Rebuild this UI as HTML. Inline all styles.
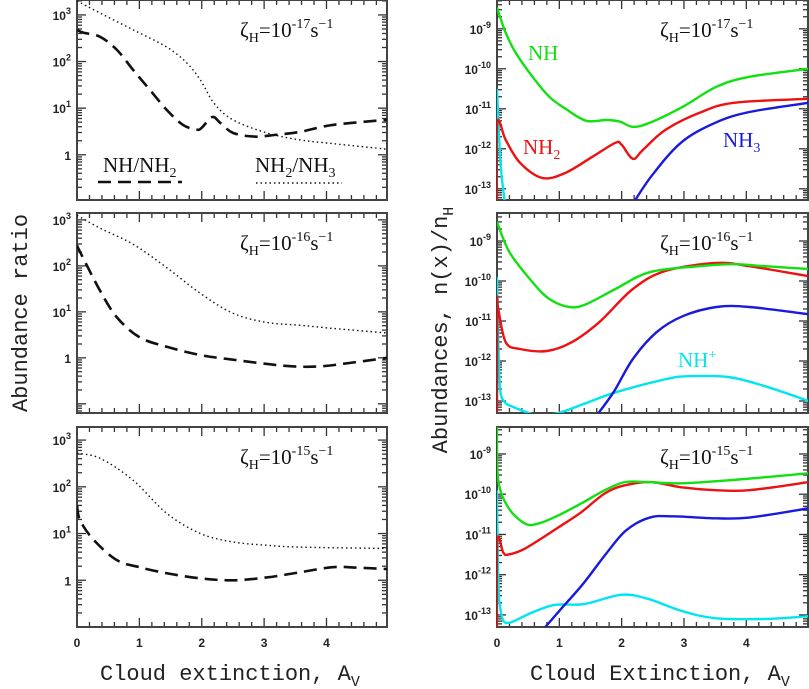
<!DOCTYPE html>
<html><head><meta charset="utf-8"><style>
body{margin:0;background:#fff;width:809px;height:689px;overflow:hidden}
svg{display:block}
.tk{font-family:"Liberation Sans",sans-serif;font-size:12px;font-weight:bold;fill:#222}
.ann{font-family:"Liberation Serif",serif;font-size:21px;fill:#111}
.ttl{font-family:"Liberation Mono",monospace;font-size:22px;fill:#222}
</style></head><body>
<svg id="c" width="809" height="689" xmlns="http://www.w3.org/2000/svg"></svg>
<script>
// ---- data: [Av, log10 value] ----
const leftDash1=[[0,2.68],[0.1,2.62],[0.37,2.53],[0.64,2.25],[0.9,1.82],[1.17,1.39],[1.44,0.96],[1.7,0.64],[1.92,0.54],[2.0,0.58],[2.17,0.81],[2.3,0.68],[2.5,0.47],[2.84,0.39],[3.2,0.43],[3.57,0.49],[4.1,0.64],[4.97,0.75]];
const leftDot1=[[0,3.3],[0.37,3.04],[0.9,2.68],[1.44,2.31],[1.76,1.97],[1.98,1.6],[2.2,1.1],[2.5,0.75],[3.04,0.47],[3.57,0.32],[4.1,0.24],[4.97,0.12]];
const leftDash2=[[0,2.45],[0.05,2.3],[0.37,1.46],[0.64,0.88],[1.0,0.45],[1.44,0.24],[1.98,0.06],[2.5,-0.04],[3.3,-0.17],[3.85,-0.19],[4.38,-0.11],[4.97,0]];
const leftDot2=[[0,3.1],[0.37,2.82],[0.9,2.47],[1.44,1.96],[1.98,1.4],[2.5,0.97],[3.04,0.77],[3.57,0.71],[4.1,0.64],[4.97,0.54]];
const leftDash3=[[0,1.6],[0.05,1.28],[0.27,0.86],[0.64,0.43],[1,0.28],[1.44,0.15],[1.98,0.04],[2.5,0],[3.04,0.06],[3.57,0.17],[4.1,0.28],[4.5,0.27],[4.97,0.24]];
const leftDot3=[[0,2.72],[0.37,2.61],[0.9,2.14],[1.44,1.43],[1.98,1.0],[2.5,0.82],[3.04,0.75],[3.57,0.71],[4.97,0.68]];

const nh1=[[0,-8.47],[0.14,-9.1],[0.3,-9.6],[0.57,-10.2],[0.84,-10.7],[1.1,-11.0],[1.43,-11.3],[1.75,-11.28],[1.97,-11.32],[2.18,-11.45],[2.45,-11.35],[2.98,-10.95],[3.52,-10.45],[4.05,-10.2],[5,-10.0]];
const nh2_1=[[0,-13.4],[0.005,-11.35],[0.14,-11.78],[0.37,-12.35],[0.73,-12.73],[1.1,-12.6],[1.53,-12.2],[1.9,-11.85],[2.0,-11.9],[2.18,-12.25],[2.34,-12.03],[2.7,-11.53],[3.25,-11.1],[3.8,-10.85],[5,-10.75]];
const nh3_1=[[2.15,-13.45],[2.47,-12.7],[2.95,-11.85],[3.5,-11.35],[4.05,-11.08],[5,-10.85]];
const nhp1=[[0,-10.5],[0.03,-11.6],[0.07,-12.6],[0.13,-13.4]];

const nh2=[[0,-8.52],[0.2,-9.28],[0.57,-10.03],[0.84,-10.45],[1.16,-10.65],[1.43,-10.58],[1.9,-10.2],[2.45,-9.78],[3.25,-9.63],[3.8,-9.58],[4.3,-9.63],[5,-9.7]];
const nh2_2=[[0,-13.4],[0.005,-10.6],[0.02,-10.7],[0.14,-11.53],[0.37,-11.7],[0.8,-11.75],[1.2,-11.53],[1.64,-11.03],[2.18,-10.2],[2.7,-9.75],[3.52,-9.55],[4.05,-9.63],[5,-9.88]];
const nh3_2=[[1.58,-13.4],[1.87,-12.78],[2.18,-11.95],[2.56,-11.28],[2.98,-10.88],[3.52,-10.65],[4.05,-10.65],[5,-10.83]];
const nhp2=[[0,-9.9],[0.02,-11.5],[0.05,-12.7],[0.12,-13.02],[0.26,-13.15],[0.64,-13.35],[0.98,-13.3],[1.38,-13.08],[1.91,-12.78],[2.72,-12.45],[3.07,-12.38],[3.71,-12.4],[4.3,-12.63],[5,-13.0]];

const nh3p=[[0,-8.33],[0.02,-9.65],[0.18,-10.33],[0.45,-10.73],[0.66,-10.73],[0.98,-10.53],[1.35,-10.23],[1.73,-9.9],[2.05,-9.7],[2.42,-9.7],[2.96,-9.73],[3.76,-9.65],[5,-9.48]];
const nh2_3=[[0,-13.4],[0.005,-11.15],[0.1,-11.45],[0.18,-11.5],[0.45,-11.35],[0.98,-10.83],[1.35,-10.45],[1.73,-9.98],[2.05,-9.78],[2.48,-9.7],[2.96,-9.83],[3.5,-9.9],[4.05,-9.9],[5,-9.7]];
const nh3_3=[[0.72,-13.4],[1.0,-12.9],[1.38,-12.23],[1.75,-11.48],[2.07,-10.9],[2.45,-10.58],[2.83,-10.55],[3.52,-10.6],[4.05,-10.58],[5,-10.35]];
const nhp3=[[0,-9.9],[0.02,-12.15],[0.07,-12.98],[0.18,-13.2],[0.55,-12.95],[0.93,-12.75],[1.4,-12.73],[1.99,-12.5],[2.42,-12.6],[2.96,-12.9],[3.5,-13.08],[4.3,-13.1],[5,-13.03]];

const xTicks=[0,1,2,3,4];
const leftYTicks=[0,1,2,3];
const rightYTicks=[-13,-12,-11,-10,-9];
const zetaExp=["-17","-16","-15"];

// ---- layout ----
const NS="http://www.w3.org/2000/svg";
const svg=document.getElementById('c');
function el(t,a,p){const e=document.createElementNS(NS,t);for(const k in a)e.setAttribute(k,a[k]);(p||svg).appendChild(e);return e;}
const rows=[{y0:0,y1:200},{y0:213,y1:413},{y0:427,y1:627}];
const leftYR=[[-0.97,3.32],[-1.2,3.15],[-1.0,3.28]];
const rightYR=[[-13.28,-8.28],[-13.3,-8.3],[-13.3,-8.33]];
const L={x0:77,x1:387,xmax:4.97}, R={x0:497,x1:808,xmax:4.99};

function mkPanel(col,ri,yr,isLeft,idx){
  const r=rows[ri];
  const sx=v=>col.x0+v/col.xmax*(col.x1-col.x0);
  const sy=v=>r.y1-(v-yr[0])/(yr[1]-yr[0])*(r.y1-r.y0);
  const g=el('g',{});
  
  
  const cid='cl'+idx;
  const cp=el('clipPath',{id:cid},g);el('rect',{x:col.x0,y:r.y0,width:col.x1-col.x0,height:r.y1-r.y0},cp);
  // x ticks
  for(let v=0;v<=col.xmax+1e-6;v+=0.2){
    const major=Math.abs(v-Math.round(v))<1e-6, len=major?9:5, X=sx(v);
    el('line',{x1:X,x2:X,y1:r.y1,y2:r.y1-len,stroke:'#333','stroke-width':1.3},g);
    el('line',{x1:X,x2:X,y1:r.y0,y2:r.y0+len,stroke:'#333','stroke-width':1.3},g);
  }
  if(ri===2) xTicks.forEach(v=>{const t=el('text',{x:sx(v),y:r.y1+20,'text-anchor':'middle',class:'tk'},g);t.textContent=v;
    });
  // y ticks (log)
  for(let d=Math.floor(yr[0]);d<=Math.ceil(yr[1]);d++){
    for(let m=1;m<10;m++){const v=d+Math.log10(m); if(v<yr[0]||v>yr[1])continue;
      const Y=sy(v),len=m===1?9:5;
      el('line',{x1:col.x0,x2:col.x0+len,y1:Y,y2:Y,stroke:'#333','stroke-width':1.3},g);
      el('line',{x1:col.x1,x2:col.x1-len,y1:Y,y2:Y,stroke:'#333','stroke-width':1.3},g);}
  }
  (isLeft?leftYTicks:rightYTicks).forEach(v=>{
    const t=el('text',{x:col.x0-6,y:sy(v)+5,'text-anchor':'end',class:'tk'},g);
    
    if(isLeft&&v===0){t.textContent='1';}
    else{t.textContent='10';const s=el('tspan',{dy:-6,'font-size':9},t);s.textContent=String(v);}
  });
  el('rect',{x:col.x0,y:r.y0,width:col.x1-col.x0,height:r.y1-r.y0,fill:'none',stroke:'#444','stroke-width':2},g);
  // annotation
  const a=el('text',{x:isLeft?240:660,y:r.y0+37,class:'ann'},g);
  
  a.innerHTML='ζ<tspan dy="5" font-size="14">H</tspan><tspan dy="-5">=10</tspan><tspan dy="-9" font-size="14">'+zetaExp[ri]+'</tspan><tspan dy="9">s</tspan><tspan dy="-9" font-size="14">−1</tspan>';
  return {g,sx,sy,cid};
}
function curve(P,pts,style,name){
  const p=pts.map(q=>[P.sx(q[0]),P.sy(q[1])]);
  let d='M'+p[0][0]+','+p[0][1];
  for(let i=0;i<p.length-1;i++){
    const p0=p[Math.max(0,i-1)],p1=p[i],p2=p[i+1],p3=p[Math.min(p.length-1,i+2)];
    const c1=[p1[0]+(p2[0]-p0[0])/6,p1[1]+(p2[1]-p0[1])/6],c2=[p2[0]-(p3[0]-p1[0])/6,p2[1]-(p3[1]-p1[1])/6];
    d+=' C'+c1+' '+c2+' '+p2;
  }
  const e=el('path',Object.assign({d:d,fill:'none','clip-path':'url(#'+P.cid+')'},style),P.g);
  
  
}
const dash={stroke:'#111','stroke-width':2.6,'stroke-dasharray':'13,7'};
const dot={stroke:'#111','stroke-width':1.4,'stroke-dasharray':'1.5,3'};
const col=c=>({stroke:c,'stroke-width':2.4});
const lData=[[leftDash1,leftDot1],[leftDash2,leftDot2],[leftDash3,leftDot3]];
const rData=[[nh1,nh2_1,nh3_1,nhp1],[nh2,nh2_2,nh3_2,nhp2],[nh3p,nh2_3,nh3_3,nhp3]];
let k=0;
for(let i=0;i<3;i++){
  const P=mkPanel(L,i,leftYR[i],true,k++);
  curve(P,lData[i][1],dot,'nh2-nh3-ratio-line');
  curve(P,lData[i][0],dash,'nh-nh2-ratio-line');
  const Q=mkPanel(R,i,rightYR[i],false,k++);
  curve(Q,rData[i][3],col('#00e5ee'),'nh-plus-line');
  curve(Q,rData[i][2],col('#1a1adc'),'nh3-line');
  curve(Q,rData[i][1],col('#ee1111'),'nh2-line');
  curve(Q,rData[i][0],col('#11e011'),'nh-line');
}
</script>
<svg style="position:absolute;left:0;top:0" width="809" height="689" xmlns="http://www.w3.org/2000/svg">
<g font-family="Liberation Serif,serif" font-size="21">
<text x="103" y="172" fill="#111">NH/NH<tspan dy="5" font-size="14">2</tspan></text>
<line x1="98" y1="182" x2="182" y2="182" stroke="#111" stroke-width="2.6" stroke-dasharray="13,7"/>
<text x="255" y="172" fill="#111">NH<tspan dy="5" font-size="14">2</tspan><tspan dy="-5">/NH</tspan><tspan dy="5" font-size="14">3</tspan></text>
<line x1="256" y1="183" x2="342" y2="183" stroke="#111" stroke-width="1.4" stroke-dasharray="1.5,3"/>
<text x="528" y="60" fill="#11e011">NH</text>
<text x="523" y="154" fill="#ee1111">NH<tspan dy="5" font-size="14">2</tspan></text>
<text x="723" y="147" fill="#1a1adc">NH<tspan dy="5" font-size="14">3</tspan></text>
<text x="678" y="367" fill="#00e5ee">NH<tspan dy="-8" font-size="14">+</tspan></text>
</g>
<text class="ttl" x="0" y="0" text-anchor="middle" transform="translate(27,313) rotate(-90)">Abundance ratio</text>
<text class="ttl" x="0" y="0" text-anchor="middle" transform="translate(447,330) rotate(-90)">Abundances, n(x)/n<tspan dy="6" font-size="15">H</tspan></text>
<text class="ttl" x="100" y="680">Cloud extinction, A<tspan dy="6" font-size="15">V</tspan></text>
<text class="ttl" x="530" y="680">Cloud Extinction, A<tspan dy="6" font-size="15">V</tspan></text>
</svg>
</body></html>
